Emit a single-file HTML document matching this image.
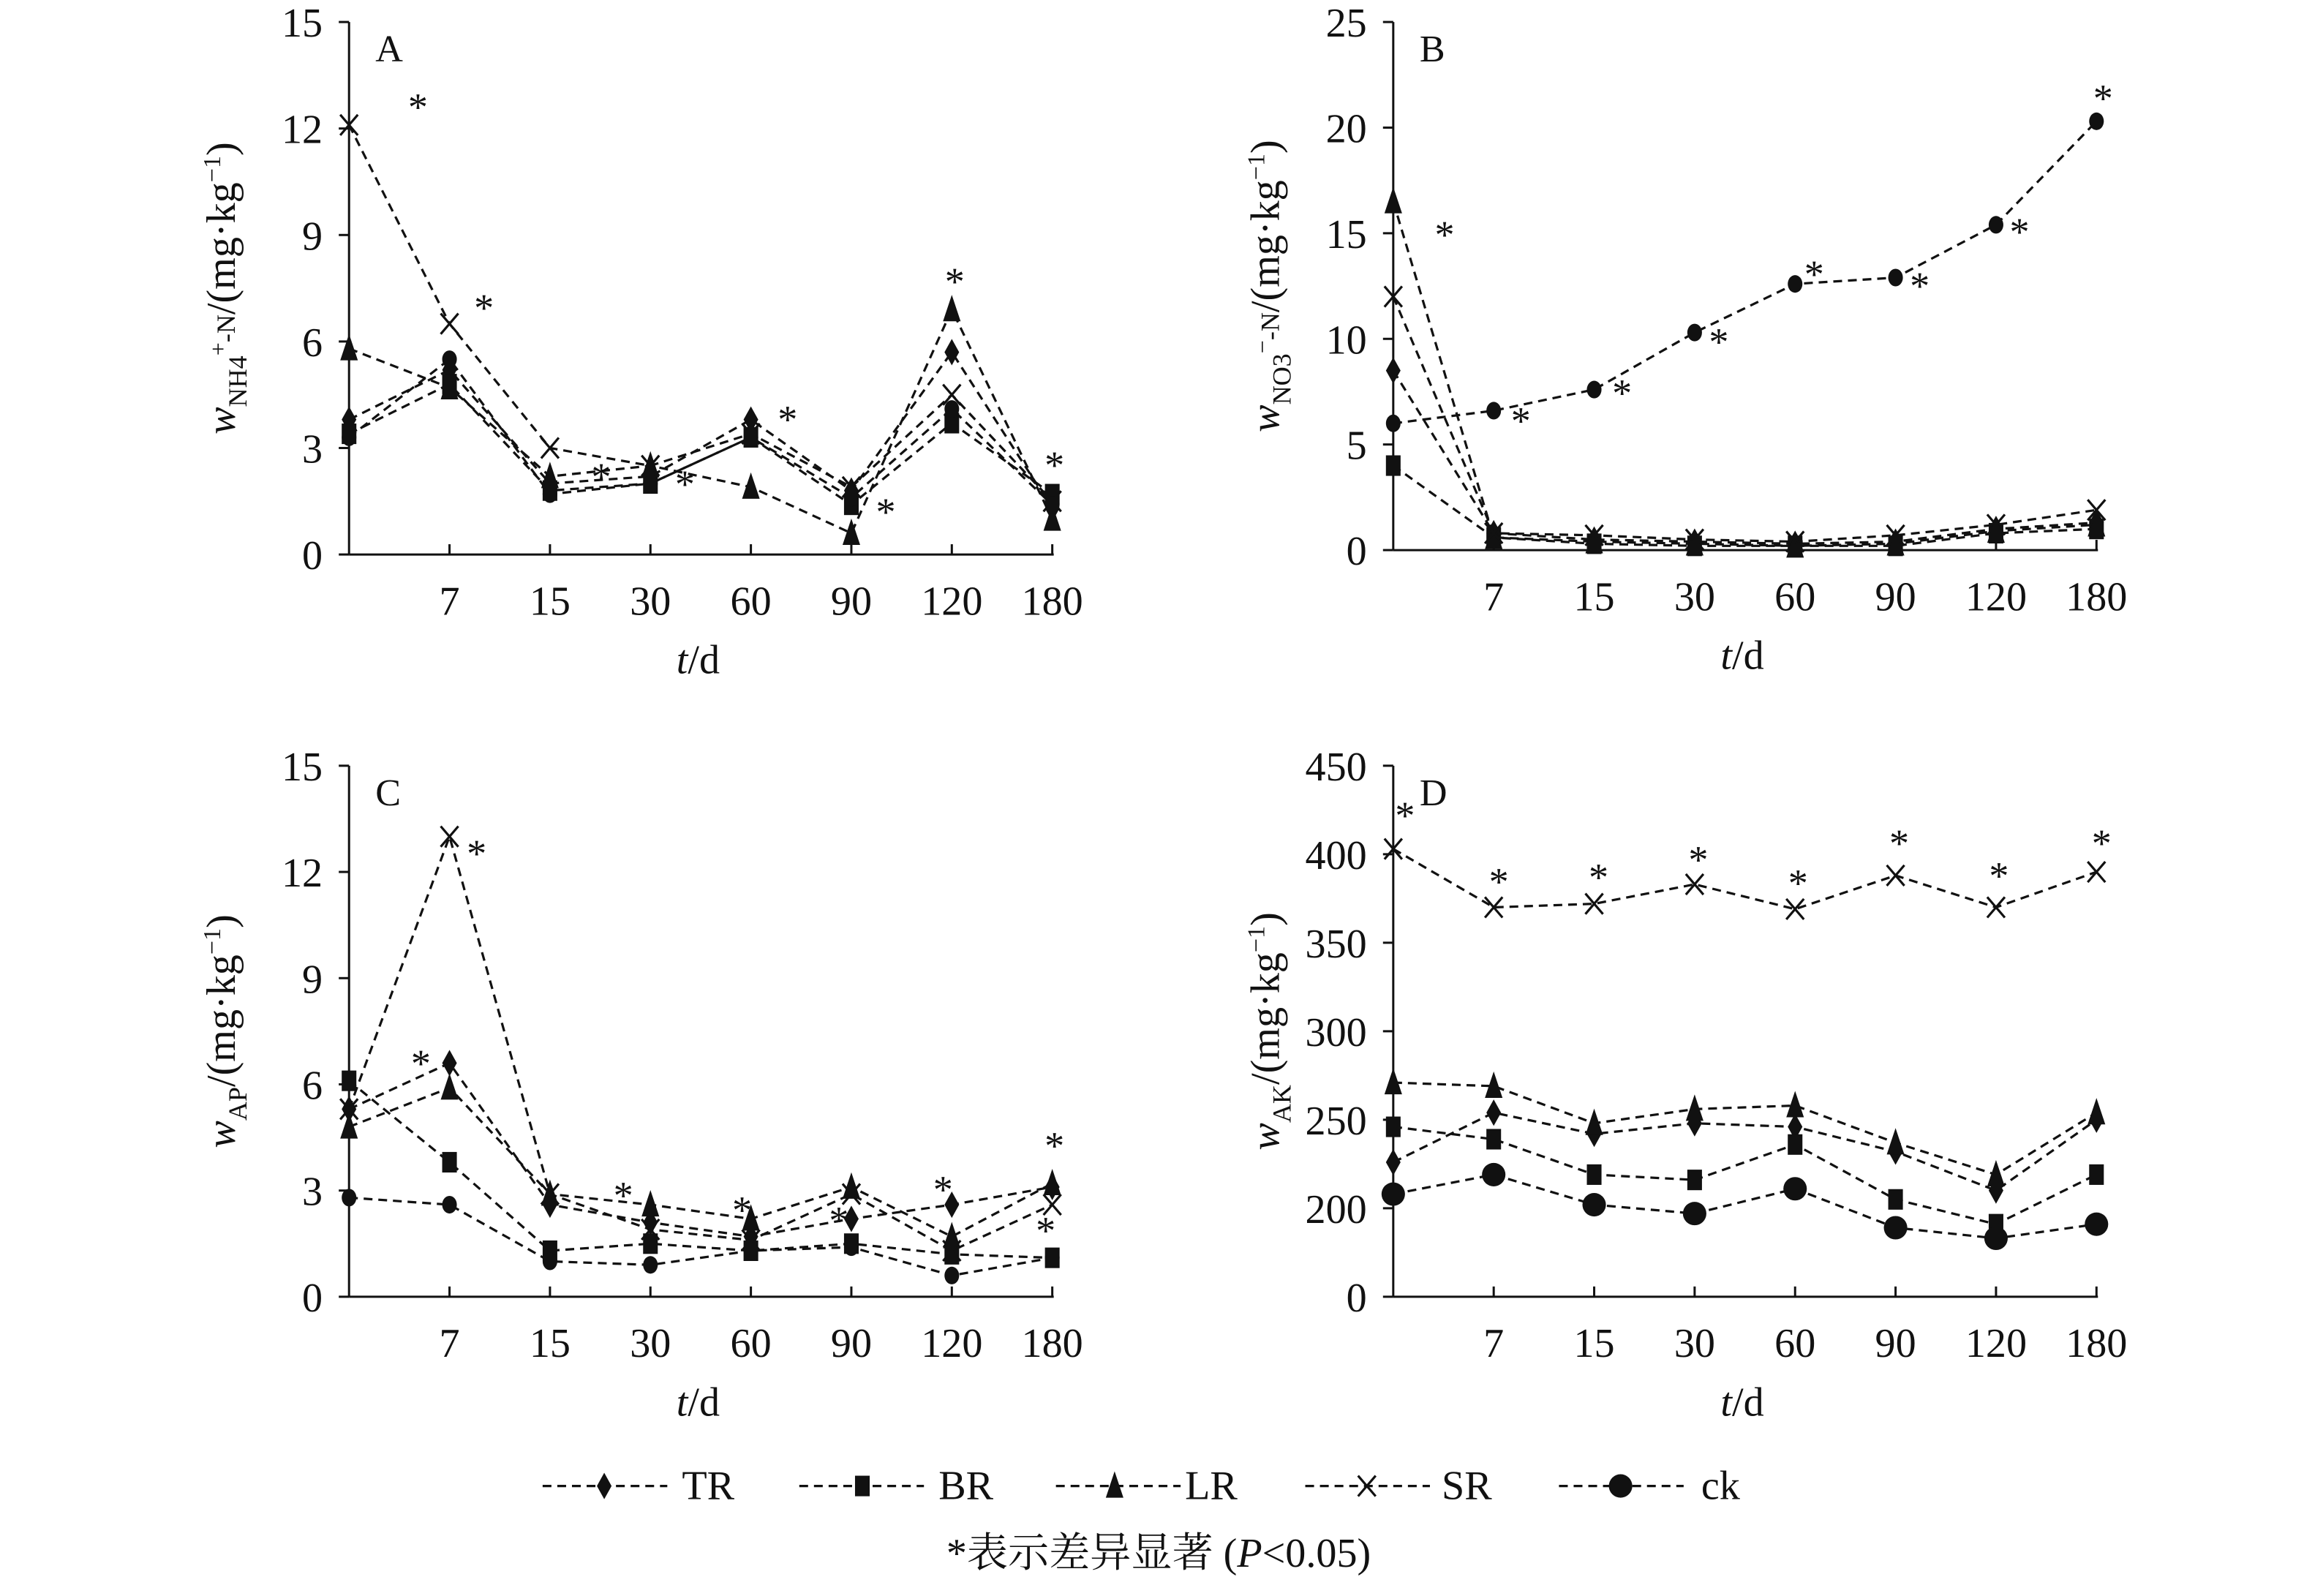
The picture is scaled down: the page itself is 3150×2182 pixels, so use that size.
<!DOCTYPE html>
<html><head><meta charset="utf-8"><style>
html,body{margin:0;padding:0;background:#fff}
svg{display:block}
text{font-family:"Liberation Serif","Noto Serif CJK SC",serif;fill:#111}
</style></head><body>
<svg id="s" width="3150" height="2182" viewBox="0 0 1571 1088" preserveAspectRatio="none" xmlns="http://www.w3.org/2000/svg">
<rect width="1600" height="1100" fill="#fff"/>
<g id="g"></g>
<text x="465" y="1022" font-size="28">TR</text>
<text x="640" y="1022" font-size="28">BR</text>
<text x="808" y="1022" font-size="28">LR</text>
<text x="983" y="1022" font-size="28">SR</text>
<text x="1160" y="1022" font-size="28">ck</text>
<text x="790" y="1068" font-size="28" text-anchor="middle">*表示差异显著 (<tspan font-style="italic">P</tspan>&lt;0.05)</text>
</svg>
<script>
const NS="http://www.w3.org/2000/svg",G=document.getElementById('g');
function el(t,a,txt){const e=document.createElementNS(NS,t);for(const k in a)e.setAttribute(k,a[k]);if(txt!==undefined)e.textContent=txt;G.appendChild(e);return e;}
function marker(type,x,y,big){
 const s=big?1.4:1;
 if(type==='d')el('polygon',{points:`${x},${y-9*s} ${x+5*s},${y} ${x},${y+9*s} ${x-5*s},${y}`,fill:'#111'});
 else if(type==='s')el('rect',{x:x-5*s,y:y-7*s,width:10*s,height:14*s,fill:'#111'});
 else if(type==='t')el('polygon',{points:`${x},${y-10*s} ${x+6*s},${y+8*s} ${x-6*s},${y+8*s}`,fill:'#111'});
 else if(type==='x'){el('path',{d:`M${x-6} ${y-7}L${x+6} ${y+7}M${x+6} ${y-7}L${x-6} ${y+7}`,stroke:'#111','stroke-width':1.6,fill:'none'});}
 else if(type==='c')el('ellipse',{cx:x,cy:y,rx:(big?8:5),ry:(big?8:6),fill:'#111'});
}
const labs=['7','15','30','60','90','120','180'];
function panel(p){
 const {x0,y0,y1,max,step,letter,ylab,data,stars,bigc}=p;
 const min=p.min||0;
 const dx=68.5, N=8;
 const X=i=>x0+i*dx, Y=v=>y0-((v-min)/(max-min))*(y0-y1);
 el('line',{x1:x0,y1:y1,x2:x0,y2:y0,stroke:'#111','stroke-width':1.5});
 el('line',{x1:x0,y1:y0,x2:X(7)+1,y2:y0,stroke:'#111','stroke-width':1.5});
 const ticks=p.ticks||(()=>{const a=[];for(let v=0;v<=max+1e-9;v+=step)a.push([v,String(v)]);return a;})();
 for(const [v,l] of ticks){const y=Y(v);el('line',{x1:x0-7,y1:y,x2:x0,y2:y,stroke:'#111','stroke-width':1.5});
  el('text',{x:x0-18,y:y+10,'font-size':28,'text-anchor':'end'},l);}
 for(let i=1;i<N;i++){el('line',{x1:X(i),y1:y0-7,x2:X(i),y2:y0,stroke:'#111','stroke-width':1.5});
  el('text',{x:X(i),y:y0+41,'font-size':28,'text-anchor':'middle'},labs[i-1]);}
 el('text',{x:x0+18,y:y1+27,'font-size':26},letter);
 const t=el('text',{x:x0+238,y:y0+81,'font-size':28,'text-anchor':'middle'});
 t.innerHTML='<tspan font-style="italic">t</tspan>/d';
 const yl=el('text',{transform:`translate(${x0-78},${(y0+y1)/2}) rotate(-90)`,'font-size':28,'text-anchor':'middle'});
 yl.innerHTML=ylab;
 for(const [type,vals] of data){
  const pts=vals.map((v,i)=>X(i)+','+Y(v)).join(' ');
  el('polyline',{points:pts,fill:'none',stroke:'#111','stroke-width':1.6,'stroke-dasharray':'6 4'});
  vals.forEach((v,i)=>marker(type,X(i),Y(v),type==='c'&&bigc));
 }
 for(const [sx,sy] of stars)el('text',{x:sx,y:sy+12,'font-size':27,'text-anchor':'middle'},'*');
}
panel({x0:238,y0:378,y1:15,max:15,step:3,letter:'A',
 ylab:'<tspan font-style="italic">w</tspan><tspan font-size="18" dy="8">NH4</tspan><tspan font-size="16" dy="-14">+</tspan><tspan font-size="18" dy="6">-N</tspan><tspan dy="0">/(mg·kg</tspan><tspan font-size="17" dy="-10">−1</tspan><tspan dy="10">)</tspan>',
 data:[['d',[3.8,5.2,2.0,2.2,3.8,1.8,5.7,1.3]],['s',[3.4,4.8,1.8,2.0,3.3,1.4,3.7,1.7]],['t',[5.8,4.7,2.2,2.5,1.9,0.6,6.9,1.0]],['x',[12.1,6.5,3.0,2.5,3.4,1.9,4.5,1.5]],['c',[3.3,5.5,1.7,2.0,3.3,1.6,4.1,1.4]]],
 stars:[[285,70],[330,207],[410,322],[467,327],[537,283],[604,346],[651,189],[719,314]]});
panel({x0:950,y0:375,y1:15,max:25,step:5,letter:'B',
 ylab:'<tspan font-style="italic">w</tspan><tspan font-size="18" dy="8">NO3</tspan><tspan font-size="16" dy="-14">−</tspan><tspan font-size="18" dy="6">-N</tspan><tspan dy="0">/(mg·kg</tspan><tspan font-size="17" dy="-10">−1</tspan><tspan dy="10">)</tspan>',
 data:[['d',[8.5,0.8,0.5,0.4,0.3,0.4,1.0,1.3]],['s',[4.0,0.6,0.3,0.2,0.2,0.2,0.8,1.0]],['t',[16.5,0.6,0.4,0.3,0.2,0.3,0.9,1.2]],['x',[12,0.8,0.7,0.5,0.4,0.7,1.2,1.9]],['c',[6,6.6,7.6,10.3,12.6,12.9,15.4,20.3]]],
 stars:[[985,157],[1037,284],[1106,265],[1172,230],[1237,184],[1309,192],[1377,155],[1434,64]]});
panel({x0:238,y0:884,y1:522,max:15,step:3,letter:'C',
 ylab:'<tspan font-style="italic">w</tspan><tspan font-size="18" dy="8">AP</tspan><tspan dy="-8">/(mg·kg</tspan><tspan font-size="17" dy="-10">−1</tspan><tspan dy="10">)</tspan>',
 data:[['d',[5.3,6.6,2.6,2.1,1.7,2.2,2.6,3.1]],['s',[6.1,3.8,1.3,1.5,1.3,1.5,1.2,1.1]],['t',[4.8,5.9,2.9,2.6,2.2,3.1,1.7,3.2]],['x',[5.3,13.0,2.9,1.9,1.6,2.9,1.3,2.6]],['c',[2.8,2.6,1.0,0.9,1.3,1.4,0.6,1.1]]],
 stars:[[325,579],[287,722],[425,812],[506,822],[572,829],[643,808],[719,778],[713,836]]});
panel({x0:950,y0:884,y1:522,min:150,max:450,letter:'D',bigc:true,
 ticks:[[450,'450'],[400,'400'],[350,'350'],[300,'300'],[250,'250'],[200,'200'],[150,'0']],
 ylab:'<tspan font-style="italic">w</tspan><tspan font-size="18" dy="8">AK</tspan><tspan dy="-8">/(mg·kg</tspan><tspan font-size="17" dy="-10">−1</tspan><tspan dy="10">)</tspan>',
 data:[['d',[226,254,242,248,246,232,210,250]],['s',[246,239,219,216,236,205,191,219]],['t',[271,269,248,256,258,237,219,254]],['x',[403,370,372,383,369,388,370,390]],['c',[208,219,202,197,211,189,183,191]]],
 stars:[[958,553],[1022,598],[1090,595],[1158,583],[1226,599],[1295,572],[1363,594],[1433,572]]});
[['d',370,412],['s',545,588],['t',720,760],['x',890,932],['c',1063,1105]].forEach(([t,a,m])=>{
 el('line',{x1:a,y1:1013,x2:a+85,y2:1013,stroke:'#111','stroke-width':1.6,'stroke-dasharray':'6 4'});
 marker(t,m,1013,t==='c');
});
</script>
</body></html>
